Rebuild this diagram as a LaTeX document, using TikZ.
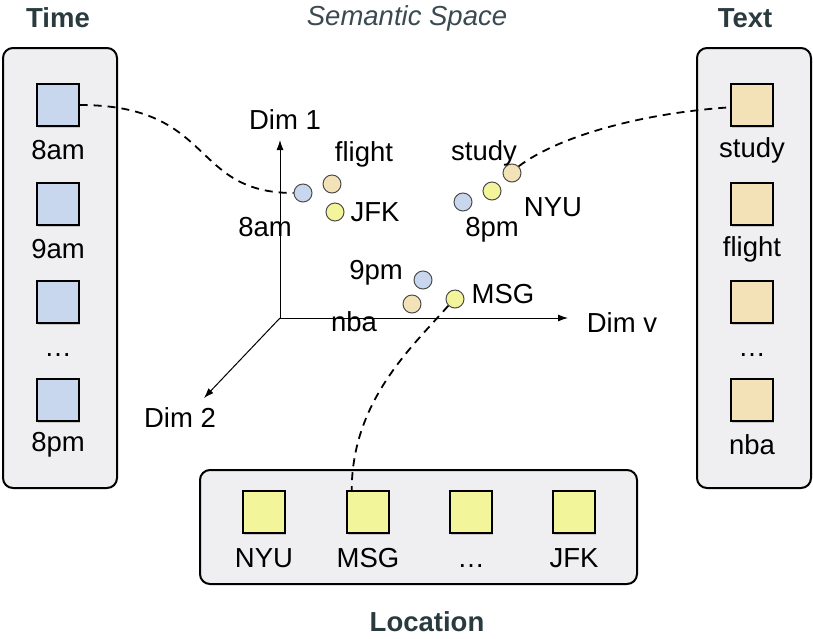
\documentclass[tikz,border=0pt]{standalone}
\usepackage{fontspec}
\setmainfont{Liberation Sans}
\usepackage{tikz}
\usetikzlibrary{arrows.meta, shadows}

\definecolor{boxgray}{HTML}{EFEFF1}
\definecolor{timeblue}{HTML}{C9D7EE}
\definecolor{texttan}{HTML}{F3E2B8}
\definecolor{locyellow}{HTML}{F3F59A}
\definecolor{titleslate}{HTML}{2A3B40}
\definecolor{semslate}{HTML}{3A4A50}

\begin{document}
\begin{tikzpicture}[x=1pt, y=-1pt,
  every node/.style={font=\fontsize{27.5}{32}\selectfont},
  panel/.style={draw, line width=2pt, rounded corners=10pt, fill=boxgray},
  cell/.style={draw, line width=1.2pt, minimum size=42pt, inner sep=0pt,
    drop shadow={shadow xshift=1pt, shadow yshift=-1.5pt, opacity=0.35}},
  spot/.style={circle, draw=black!70, line width=1pt, minimum size=18pt, inner sep=0pt},
  heading/.style={text=titleslate, font=\fontsize{27.5}{32}\selectfont\bfseries},
  link/.style={line width=1.8pt, dash pattern=on 8pt off 6pt},
  dimaxis/.style={line width=1pt, -{Latex[length=10pt, width=7pt]}}]
  \useasboundingbox (0,0) rectangle (813,638);

  \draw[panel] (3,48) rectangle (117,488);
  \draw[panel] (697,48) rectangle (811,488);
  \draw[panel] (200,470) rectangle (637,584);

  \node[heading] (timetitle) at (58,18) {Time};
  \node[heading] (texttitle) at (745,18) {Text};
  \node[heading] (loctitle) at (427,622) {Location};
  \node[text=semslate, font=\fontsize{27.5}{32}\selectfont\itshape] (semtitle) at (407,18) {Semantic Space};

  \foreach \i/\y/\l in {1/105/8am, 2/204/9am, 3/302/\vphantom{8}\ldots, 4/400/8pm} {
    \node[cell, fill=timeblue] (t\i) at (58,\y) {};
    \node (tl\i) at (58,\y+45) {\l};
  }
  \foreach \i/\y/\l in {1/105/study, 2/204/flight, 3/302/\vphantom{8}\ldots, 4/400/nba} {
    \node[cell, fill=texttan] (x\i) at (752,\y) {};
    \node (xl\i) at (752,\y+45) {\l};
  }
  \foreach \i/\x/\l in {1/264/NYU, 2/368/MSG, 3/471/\vphantom{8}\ldots, 4/574/JFK} {
    \node[cell, fill=locyellow] (l\i) at (\x,512) {};
    \node (ll\i) at (\x,558) {\l};
  }

  \coordinate (o) at (280,318);
  \coordinate (d1) at (280,140);
  \coordinate (dv) at (568,318);
  \coordinate (d2) at (204,398);
  \draw[dimaxis] (o) -- (d1);
  \draw[dimaxis] (o) -- (dv);
  \draw[dimaxis] (o) -- (d2);
  \node (d1lab) at (285,120) {Dim 1};
  \node (dvlab) at (622,323) {Dim v};
  \node (d2lab) at (180,418) {Dim 2};

  \foreach \n/\x/\y/\c in {a8/303/193/timeblue, fl/332/184/texttan, jfk/335/212/locyellow,
      p8/463/202/timeblue, nyu/492/191/locyellow, st/512/173/texttan,
      p9/423/280/timeblue, nb/412/304/texttan, msg/455/299/locyellow}
    \node[spot, fill=\c] (\n) at (\x,\y) {};

  \foreach \n/\x/\y/\l in {flab/364/154/flight, jlab/375/212/JFK, alab/265/227/8am,
      slab/484/153/study, nlab/553/207/NYU, plab/492/230/8pm,
      qlab/376/273/9pm, blab/354/322/nba, mlab/503/294/MSG}
    \node (\n) at (\x,\y) {\l};

  \draw[link] (t1.east) .. controls +(136,0) and +(-104,0) .. (a8.west);
  \draw[link] (st.north east) .. controls +(40,-30) and +(-90,6) .. (x1.186);
  \draw[link] (msg.south west) .. controls +(-35,40) and +(0,-90) .. (l2.127);
\end{tikzpicture}
\end{document}
